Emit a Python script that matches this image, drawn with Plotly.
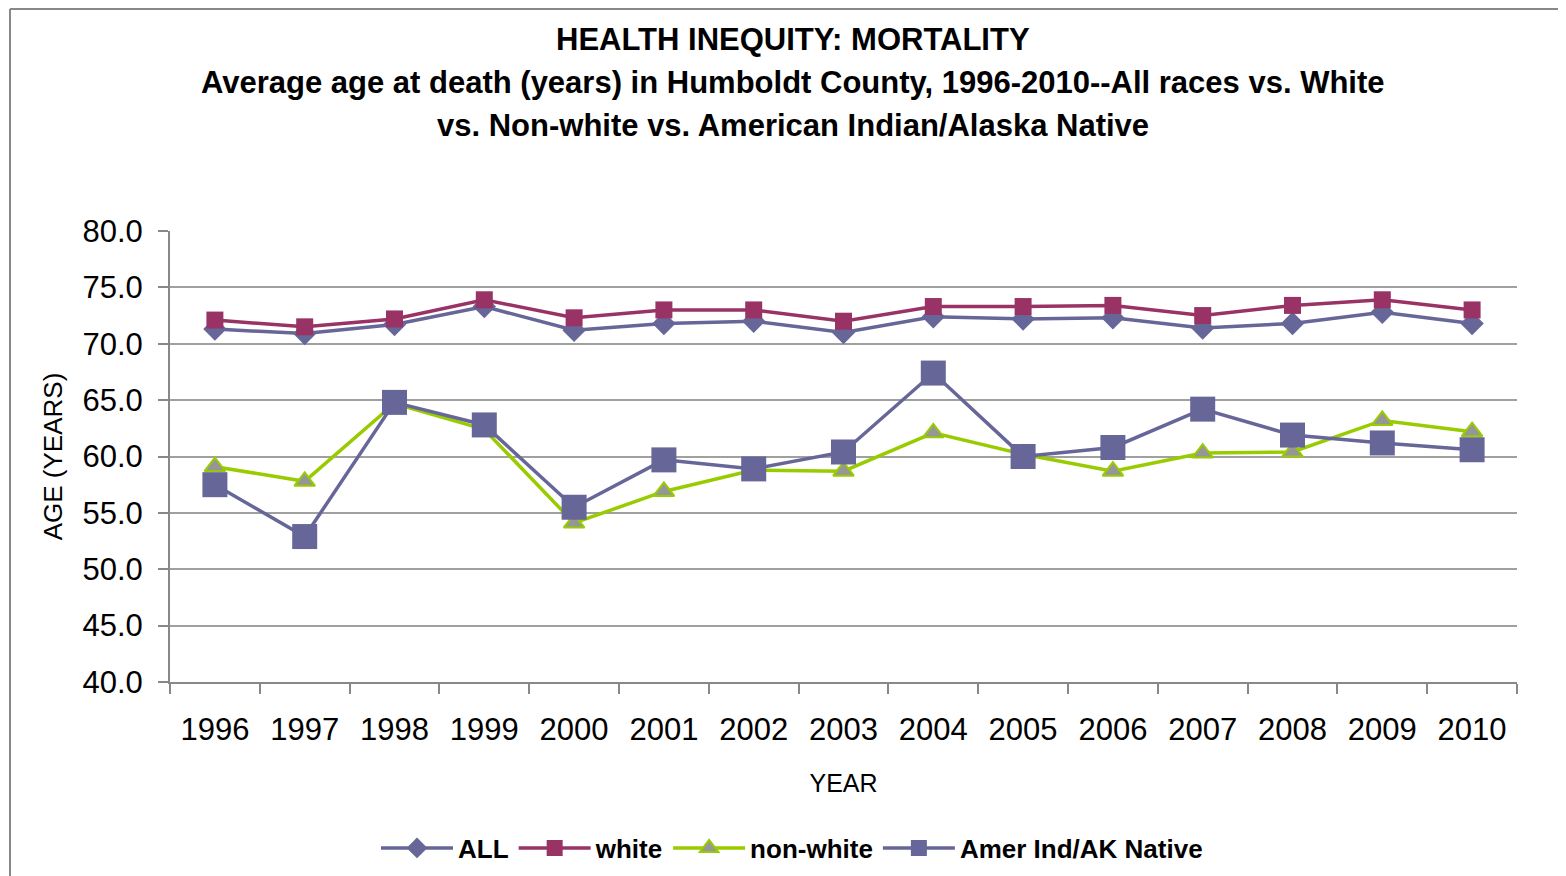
import plotly.graph_objects as go

years = ["1996", "1997", "1998", "1999", "2000", "2001", "2002", "2003",
         "2004", "2005", "2006", "2007", "2008", "2009", "2010"]
all_races = [71.3, 70.9, 71.7, 73.3, 71.2, 71.8, 72.0, 71.0, 72.4, 72.2, 72.3, 71.4, 71.8, 72.8, 71.8]
white = [72.1, 71.5, 72.2, 73.9, 72.3, 73.0, 73.0, 72.0, 73.3, 73.3, 73.4, 72.5, 73.4, 73.9, 73.0]
non_white = [59.1, 57.8, 64.7, 62.4, 54.1, 56.9, 58.8, 58.7, 62.1, 60.2, 58.7, 60.3, 60.4, 63.2, 62.2]
aian = [57.5, 52.9, 64.8, 62.8, 55.5, 59.7, 58.9, 60.4, 67.4, 60.0, 60.8, 64.2, 61.9, 61.2, 60.6]
y_ticks = [40, 45, 50, 55, 60, 65, 70, 75, 80]

FONT = "Liberation Sans, Arial, sans-serif"

# page body has an 8px margin; figure is sized/offset so the plot area lands at
# screen x 170..1517, y 231..682
W, H = 1558, 868
PL, PR, PT, PB = 170, 1517, 231, 682  # screen coords of plot area
OFF = 8


def px(xs):
    return (xs - PL) / (PR - PL)


def py(ys):
    return (PB - ys) / (PB - PT)


fig = go.Figure()
fig.add_trace(go.Scatter(x=years, y=all_races, name="ALL", mode="lines+markers",
                         line=dict(color="#666699", width=3.5),
                         marker=dict(symbol="diamond", size=18, color="#666699")))
fig.add_trace(go.Scatter(x=years, y=white, name="white", mode="lines+markers",
                         line=dict(color="#993366", width=3.5),
                         marker=dict(symbol="square", size=17, color="#993366")))
fig.add_trace(go.Scatter(x=years, y=non_white, name="non-white", mode="lines+markers",
                         line=dict(color="#99CC00", width=3.5),
                         marker=dict(symbol="triangle-up", size=18, color="#969696",
                                     line=dict(color="#99CC00", width=2))))
fig.add_trace(go.Scatter(x=years, y=aian, name="Amer Ind/AK Native", mode="lines+markers",
                         line=dict(color="#666699", width=3.5),
                         marker=dict(symbol="square", size=25, color="#666699")))

fig.update_layout(
    width=W, height=H,
    margin=dict(l=PL - OFF, r=W - (PR - OFF), t=PT - OFF, b=H - (PB - OFF)),
    paper_bgcolor="white", plot_bgcolor="white",
    font=dict(family=FONT, color="black"),
    showlegend=True,
    legend=dict(orientation="h", xref="container", yref="container",
                x=(792 - OFF) / W, xanchor="center",
                y=1 - (848 - OFF) / H, yanchor="middle",
                font=dict(size=26, family=FONT, weight="bold"), itemwidth=72,
                tracegroupgap=0),
    xaxis=dict(type="category", range=[-0.5, 14.5], showgrid=False, automargin=False,
               showline=True, linecolor="#888888", linewidth=2,
               ticks="outside", tickson="boundaries", ticklen=10, tickcolor="#888888",
               tickwidth=2, tickfont=dict(size=31), ticklabelstandoff=19,
               title=dict(text="YEAR", font=dict(size=25), standoff=28)),
    yaxis=dict(range=[40, 80], tickvals=y_ticks, ticktext=[f"{v:.1f}" for v in y_ticks],
               showgrid=True, gridcolor="#A0A0A0", gridwidth=2, automargin=False,
               showline=True, linecolor="#888888", linewidth=2,
               ticks="outside", ticklen=10, tickcolor="#888888", tickwidth=2,
               tickfont=dict(size=31), zeroline=False, ticklabelstandoff=9,
               title=dict(text="AGE (YEARS)", font=dict(size=26), standoff=12)),
)

title_font = dict(size=31, family=FONT, weight="bold")
fig.add_annotation(text="HEALTH INEQUITY: MORTALITY", xref="paper", yref="paper",
                   x=px(793), y=py(40), showarrow=False, yanchor="middle", font=title_font)
fig.add_annotation(text="Average age at death (years) in Humboldt County, 1996-2010--All races vs. White",
                   xref="paper", yref="paper", x=px(793), y=py(82), showarrow=False,
                   yanchor="middle", font=title_font)
fig.add_annotation(text="vs. Non-white vs. American Indian/Alaska Native",
                   xref="paper", yref="paper", x=px(793), y=py(126), showarrow=False,
                   yanchor="middle", font=title_font)

# outer chart border (top and left)
fig.add_shape(type="line", xref="paper", yref="paper", x0=px(10), x1=px(1570),
              y0=py(9), y1=py(9), line=dict(color="#888888", width=2))
fig.add_shape(type="line", xref="paper", yref="paper", x0=px(10), x1=px(10),
              y0=py(9), y1=py(880), line=dict(color="#888888", width=2))

fig.write_html("out.html")
